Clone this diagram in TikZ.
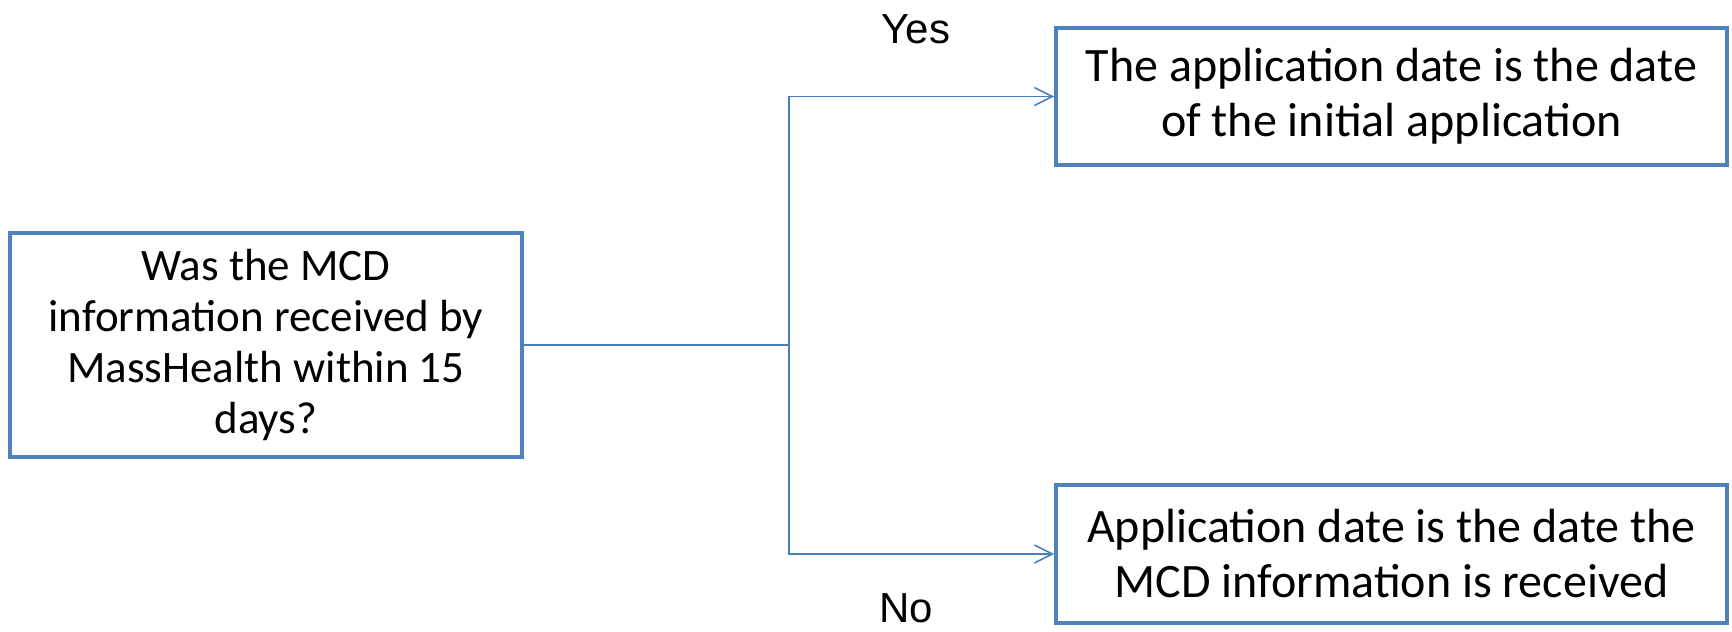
\documentclass[tikz,border=0pt]{standalone}
\usepackage{fontspec}
\setmainfont{Carlito}
\newfontfamily\labelfont{Liberation Sans}
\usepackage{xcolor}
\usepackage{tikz}
\usetikzlibrary{arrows.meta, positioning}

\definecolor{boxblue}{HTML}{4F81BD}
\definecolor{lineblue}{HTML}{4A7EBB}

\tikzset{
    box/.style={draw=boxblue, line width=1.8pt, align=center, inner sep=0pt},
    link/.style={draw=lineblue, line width=0.8pt, -{Straight Barb[length=9pt, width=9pt, line width=0.8pt]}},
    branch/.style={font=\labelfont\fontsize{21}{24}\selectfont, inner sep=1pt}
}

\begin{document}
\begin{tikzpicture}[x=0.5pt, y=0.5pt]
    \useasboundingbox (0,0) rectangle (1732,631);

    % Question and the two outcomes
    \node[box, minimum width=256pt, minimum height=112pt, font=\fontsize{22.5}{25.5}\selectfont]
        (question) at (266,286) {Was the MCD\\information received by\\MassHealth within 15\\days?};
    \node[box, minimum width=335.5pt, minimum height=68.5pt, font=\fontsize{24}{27.5}\selectfont]
        (initial) at (1391.5,534.5) {The application date is the date\\of the initial application};
    \node[box, minimum width=335.5pt, minimum height=69pt, font=\fontsize{24}{27.5}\selectfont]
        (received) at (1391.5,77) {Application date is the date the\\MCD information is received};

    % Branch point
    \coordinate (split) at (789,286);
    \draw[draw=lineblue, line width=0.8pt] (question.east) -- (split);
    \draw[link] (split) |- (initial.west);
    \draw[link] (split) |- (received.west);

    % Branch labels
    \node[branch] (yes) at (916,602) {Yes};
    \node[branch] (no) at (906,23) {No};
\end{tikzpicture}
\end{document}
